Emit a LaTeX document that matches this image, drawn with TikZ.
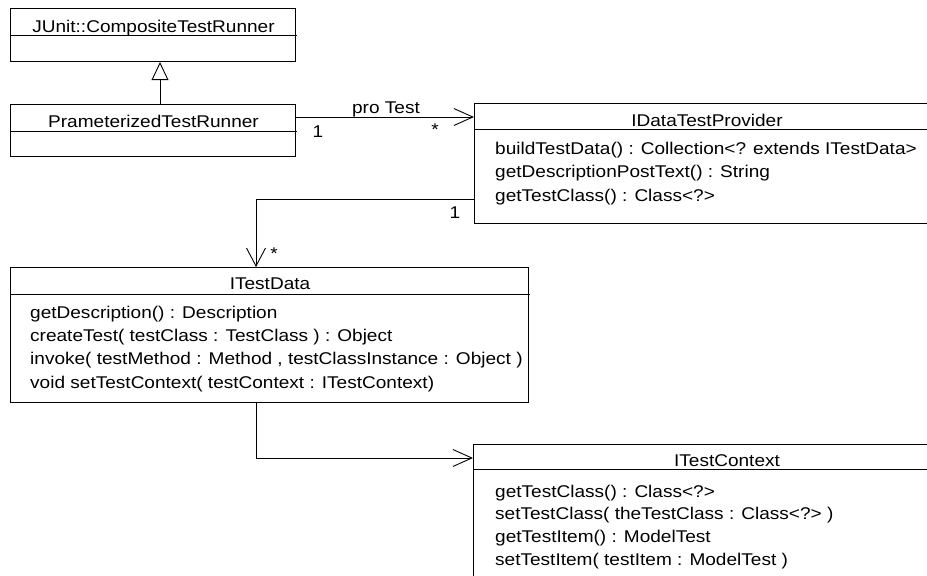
\documentclass[tikz,border=0pt]{standalone}
\usepackage{fontspec}
\setmainfont{Liberation Sans}[FakeStretch=1.12]
\usetikzlibrary{arrows.meta}

\tikzset{
  umlfont/.style={font=\fontsize{17}{22}\selectfont},
  classbox/.style={draw=black, line width=1.1pt, fill=white, inner sep=0pt, anchor=north west},
  divider/.style={draw=black, line width=1pt},
  txt/.style={umlfont, inner sep=0pt, anchor=base west},
  ttl/.style={umlfont, inner sep=0pt, anchor=base},
  lbl/.style={umlfont, inner sep=0pt, anchor=base},
  link/.style={draw=black, line width=0.9pt},
  generalize/.style={link, -{Triangle[open, length=18pt, width=17pt, line width=0.9pt]}},
  navh/.style={link, -{Straight Barb[length=19pt, width=17pt, line width=0.9pt]}},
  navv/.style={link, -{Straight Barb[length=18pt, width=19pt, line width=0.9pt]}},
}

\begin{document}
\begin{tikzpicture}[x=1pt, y=-1pt]
  \useasboundingbox (0,0) rectangle (927,576);
  \clip (0,0) rectangle (927,576);
  \fill[white] (0,0) rectangle (927,576);

  % JUnit::CompositeTestRunner
  \node[classbox, minimum width=285pt, minimum height=53pt] (cr) at (10,8) {};
  \draw[divider] (10,35) -- (297,35);
  \node[ttl] (crt) at (153.5,32) {JUnit::CompositeTestRunner};

  % PrameterizedTestRunner
  \node[classbox, minimum width=285pt, minimum height=52pt] (pr) at (10,104) {};
  \draw[divider] (10,131) -- (297,131);
  \node[ttl] (prt) at (153.5,127) {PrameterizedTestRunner};

  % IDataTestProvider
  \node[classbox, minimum width=466pt, minimum height=120pt] (dp) at (474,103) {};
  \draw[divider] (474,129) -- (940,129);
  \node[ttl] (dpt) at (707,126.5) {IDataTestProvider};
  \node[txt] (dp1) at (495,154) {buildTestData() : Collection<? extends ITestData>};
  \node[txt] (dp2) at (495,177.5) {getDescriptionPostText() : String};
  \node[txt] (dp3) at (495,201) {getTestClass() : Class<?>};

  % ITestData
  \node[classbox, minimum width=518pt, minimum height=135pt] (td) at (10,267) {};
  \draw[divider] (10,294) -- (530,294);
  \node[ttl] (tdt) at (270,289.5) {ITestData};
  \node[txt] (td1) at (30,318) {getDescription() : Description};
  \node[txt] (td2) at (30,341.3) {createTest( testClass : TestClass ) : Object};
  \node[txt] (td3) at (30,364.7) {invoke( testMethod : Method , testClassInstance : Object )};
  \node[txt] (td4) at (30,388) {void setTestContext( testContext : ITestContext)};

  % ITestContext
  \node[classbox, minimum width=508pt, minimum height=150pt] (tc) at (473,444) {};
  \draw[divider] (473,469) -- (981,469);
  \node[ttl] (tct) at (727,466) {ITestContext};
  \node[txt] (tc1) at (495,497) {getTestClass() : Class<?>};
  \node[txt] (tc2) at (495,519.7) {setTestClass( theTestClass : Class<?> )};
  \node[txt] (tc3) at (495,542.3) {getTestItem() : ModelTest};
  \node[txt] (tc4) at (495,565) {setTestItem( testItem : ModelTest )};

  % routing points of the connectors
  \coordinate (gx) at (160,0);
  \coordinate (a1) at (0,117);
  \coordinate (a2) at (256,199);
  \coordinate (a3) at (256,458);

  % inheritance
  \draw[generalize] (pr.north -| gx) -- (cr.south -| gx);

  % pro Test association
  \draw[navh] (pr.east |- a1) -- (dp.west |- a1);
  \node[lbl] (ptl) at (386,113) {pro Test};
  \node[lbl] (m1a) at (318,137) {1};
  \node[lbl] (m1b) at (435,135) {*};

  % provider to test data
  \draw[navv] (dp.west |- a2) -| (td.north -| a2);
  \node[lbl] (m2a) at (455,218) {1};
  \node[lbl] (m2b) at (274,259) {*};

  % test data to context
  \draw[navh] (td.south -| a3) |- (tc.west |- a3);
\end{tikzpicture}
\end{document}
